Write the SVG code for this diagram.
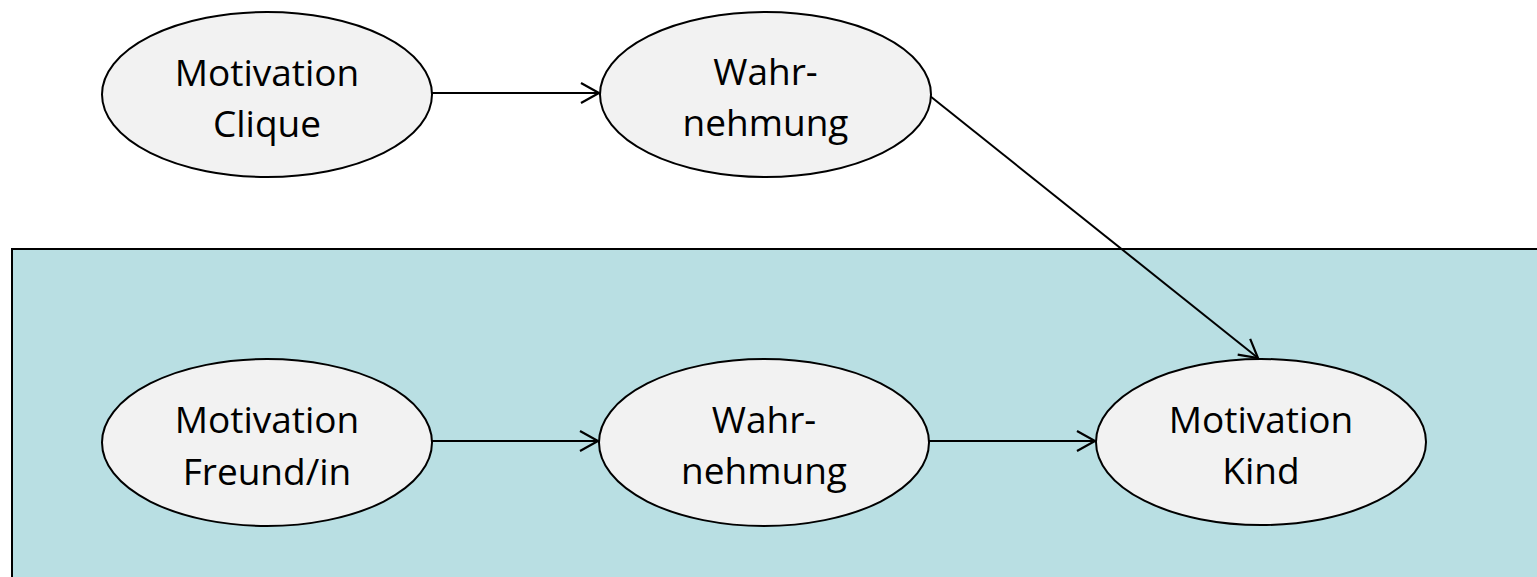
<svg xmlns="http://www.w3.org/2000/svg" width="1537" height="577" viewBox="0 0 1537 577">
<defs>
<style>
.node ellipse{fill:#F2F2F2;stroke:#000;stroke-width:2}
.node text{font-family:"Open Sans","Liberation Sans",sans-serif;font-size:37px;fill:#000;text-anchor:middle}
.conn line{stroke:#000;stroke-width:2;fill:none;marker-end:url(#arr)}
</style>
<marker id="arr" markerUnits="userSpaceOnUse" markerWidth="24" markerHeight="24" viewBox="-20 -12 24 24" refX="0" refY="0" orient="auto" overflow="visible">
<path d="M-18,-10 L0,0 L-18,10" fill="none" stroke="#000" stroke-width="2.2"/>
</marker>
</defs>
<rect id="panel" x="12" y="249" width="1540" height="340" fill="#B9DFE3" stroke="#000" stroke-width="2"/>
<g id="connectors" class="conn">
<line x1="432" y1="93" x2="599" y2="93"/>
<line x1="930" y1="96" x2="1258" y2="358"/>
<line x1="432" y1="441" x2="598" y2="441"/>
<line x1="929" y1="441" x2="1095" y2="441"/>
</g>
<g id="motivation-clique" class="node">
<ellipse cx="267" cy="94.5" rx="165" ry="82.5"/>
<text x="267" y="86">Motivation</text>
<text x="267" y="137">Clique</text>
</g>
<g id="wahrnehmung-top" class="node">
<ellipse cx="765.5" cy="94.5" rx="165.5" ry="82.5"/>
<text x="765.5" y="85">Wahr-</text>
<text x="765.5" y="136">nehmung</text>
</g>
<g id="motivation-freund" class="node">
<ellipse cx="267" cy="442.5" rx="165" ry="83.5"/>
<text x="267" y="433">Motivation</text>
<text x="267" y="485">Freund/in</text>
</g>
<g id="wahrnehmung-bottom" class="node">
<ellipse cx="764" cy="442.5" rx="165" ry="83.5"/>
<text x="764" y="433">Wahr-</text>
<text x="764" y="484">nehmung</text>
</g>
<g id="motivation-kind" class="node">
<ellipse cx="1261" cy="442" rx="165" ry="83"/>
<text x="1261" y="433">Motivation</text>
<text x="1261" y="484">Kind</text>
</g>
</svg>
